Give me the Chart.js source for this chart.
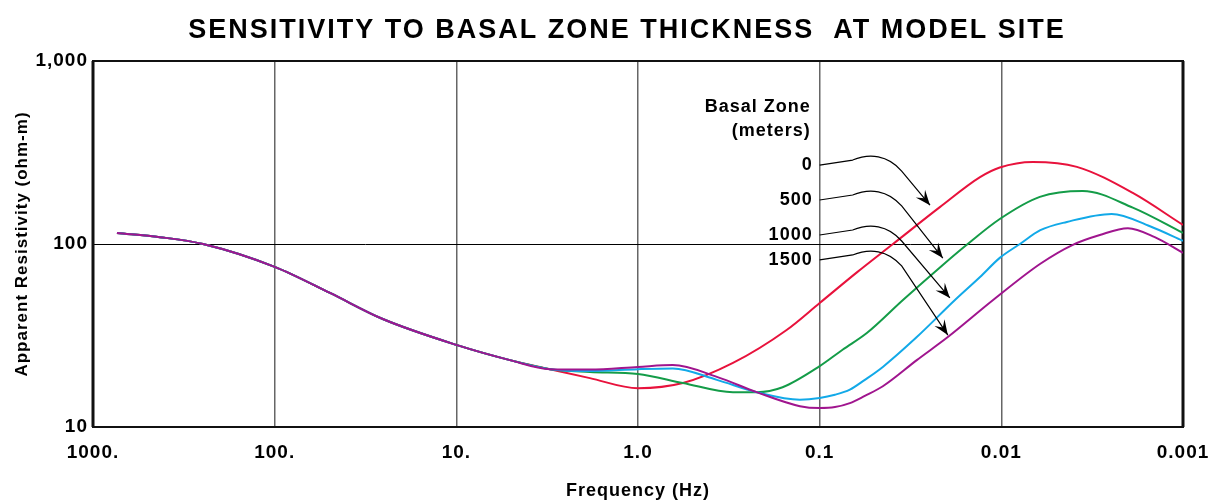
<!DOCTYPE html>
<html>
<head>
<meta charset="utf-8">
<script src="https://cdn.jsdelivr.net/npm/chart.js@4"></script>
<style>
  html, body { margin: 0; padding: 0; background: #fff; }
  #wrap { width: 1208px; height: 504px; }
</style>
</head>
<body>
<div id="wrap"><canvas id="chart"></canvas></div>
<script>
// tick labels
var xTickValues = [1000, 100, 10, 1, 0.1, 0.01, 0.001];
var xTickLabels = ["1000.", "100.", "10.", "1.0", "0.1", "0.01", "0.001"];
var yTickValues = [10, 100, 1000];
var yTickLabels = ["10", "100", "1,000"];

// part shared by every curve (Hz, ohm-m)
var freqCommon = [738, 428, 248, 100, 49.6, 25.4, 10, 5.07, 3.05];
var rhoCommon = [115, 109, 100, 75, 54, 38.9, 28.1, 23.2, 20.7];

// basal zone 0 m
var freq0 = [1.84, 1.0, 0.566, 0.30, 0.152, 0.1, 0.0624, 0.0395, 0.0218, 0.0131, 0.0102, 0.00671, 0.00384, 0.00189, 0.001];
var rho0 = [18.5, 16.3, 17.4, 22.4, 33.9, 47.6, 70, 100, 159, 232, 262, 281, 264, 190, 127];
// basal zone 500 m
var freq500 = [1.84, 1.0, 0.566, 0.30, 0.222, 0.16, 0.1, 0.0745, 0.055, 0.0348, 0.021, 0.0155, 0.0102, 0.00614, 0.00356, 0.00189, 0.001];
var rho500 = [20.0, 19.5, 17.4, 15.5, 15.5, 16.5, 21.5, 26.5, 32.6, 49.4, 76.8, 99, 137, 181, 195, 158, 115];
// basal zone 1000 m
var freq1000 = [1.84, 1.0, 0.643, 0.368, 0.222, 0.1285, 0.1, 0.0824, 0.0682, 0.0564, 0.0449, 0.0292, 0.018, 0.0131, 0.0102, 0.0079, 0.0061, 0.00436, 0.00247, 0.00152, 0.001];
var rho1000 = [20.2, 20.7, 20.9, 18.1, 15.5, 14.1, 14.4, 15.0, 16.0, 18.1, 21.3, 31.0, 49.4, 66, 84, 100, 119, 132, 146, 125, 104];
// basal zone 1500 m
var freq1500 = [1.84, 1.0, 0.643, 0.368, 0.222, 0.1285, 0.1, 0.0824, 0.0682, 0.0564, 0.0449, 0.0292, 0.0197, 0.0111, 0.0061, 0.00404, 0.00287, 0.00201, 0.00143, 0.001];
var rho1500 = [20.6, 21.3, 21.8, 18.8, 15.5, 13.0, 12.7, 12.85, 13.5, 14.8, 16.7, 23.2, 31.0, 49.4, 78, 99, 112, 122, 109, 89.5];

// annotation
var zoneLabels = ["0", "500", "1000", "1500"];
var zoneLabelRho = [270, 174, 112, 81.8];
var arrowTipFreq = [0.0247, 0.021, 0.0192, 0.0197];
var arrowTipRho = [163, 83.8, 50.7, 31.8];
var zoneLabelFreq = 0.1;

var chartTitle = "SENSITIVITY TO BASAL ZONE THICKNESS  AT MODEL SITE";
var helv = "'Liberation Sans', Arial, Helvetica, sans-serif";

function pts(f, r) {
  var fx = freqCommon.concat(f), ry = rhoCommon.concat(r);
  return fx.map(function (v, i) { return { x: v, y: ry[i] }; });
}

function line(label, data, color) {
  return {
    label: label, data: data, borderColor: color, borderWidth: 2,
    pointRadius: 0, cubicInterpolationMode: "monotone", fill: false
  };
}

var annotate = {
  id: "annotate",
  beforeDraw: function (chart) {
    chart.ctx.letterSpacing = "1px";
  },
  beforeDatasetsDraw: function (chart) {
    var a = chart.chartArea, ctx = chart.ctx;
    ctx.save();
    ctx.strokeStyle = "#111";
    ctx.lineWidth = 2;
    ctx.strokeRect(a.left, a.top, a.right - a.left, a.bottom - a.top);
    ctx.lineWidth = 3;
    ctx.beginPath();
    ctx.moveTo(a.left, a.top); ctx.lineTo(a.left, a.bottom);
    ctx.moveTo(a.right, a.top); ctx.lineTo(a.right, a.bottom);
    ctx.stroke();
    ctx.restore();
  },
  afterDatasetsDraw: function (chart) {
    var ctx = chart.ctx, xs = chart.scales.x, ys = chart.scales.y;
    var lx = xs.getPixelForValue(zoneLabelFreq);
    ctx.save();
    ctx.fillStyle = "#000";
    ctx.textAlign = "right";
    ctx.textBaseline = "middle";
    ctx.letterSpacing = "1px";
    ctx.font = "bold 18px " + helv;
    ctx.fillText("Basal Zone", lx - 9, ys.getPixelForValue(561));
    ctx.fillText("(meters)", lx - 9, ys.getPixelForValue(414));
    ctx.strokeStyle = "#000";
    ctx.lineWidth = 1.2;
    zoneLabels.forEach(function (t, i) {
      var sy = ys.getPixelForValue(zoneLabelRho[i]);
      ctx.fillText(t, lx - 7, sy);
      var tx = xs.getPixelForValue(arrowTipFreq[i]), ty = ys.getPixelForValue(arrowTipRho[i]);
      var sx = lx;
      ctx.beginPath();
      ctx.moveTo(sx, sy);
      ctx.lineTo(sx + 33, sy - 5);
      ctx.bezierCurveTo(sx + 50, sy - 12, sx + 68, sy - 10, sx + 82, sy + 6);
      ctx.lineTo(tx, ty);
      ctx.stroke();
      // arrow head
      var ang = Math.atan2(ty - (sy + 6), tx - (sx + 82));
      var len = 15, w = 6;
      ctx.beginPath();
      ctx.moveTo(tx, ty);
      ctx.lineTo(tx - len * Math.cos(ang) + w * Math.sin(ang), ty - len * Math.sin(ang) - w * Math.cos(ang));
      ctx.lineTo(tx - 0.6 * len * Math.cos(ang), ty - 0.6 * len * Math.sin(ang));
      ctx.lineTo(tx - len * Math.cos(ang) - w * Math.sin(ang), ty - len * Math.sin(ang) + w * Math.cos(ang));
      ctx.closePath();
      ctx.fill();
    });
    // title
    ctx.textAlign = "center";
    ctx.letterSpacing = "2px";
    ctx.font = "bold 27px " + helv;
    ctx.fillText(chartTitle, 627, 31);
    ctx.restore();
  }
};

var ctx = document.getElementById("chart");
var chart = new Chart(ctx, {
  type: "line",
  data: {
    datasets: [
      line("1500", pts(freq1500, rho1500), "#a0158e"),
      line("1000", pts(freq1000, rho1000), "#12a9e8"),
      line("500", pts(freq500, rho500), "#149c48"),
      line("0", pts(freq0, rho0), "#e8123c")
    ]
  },
  options: {
    responsive: true,
    maintainAspectRatio: false,
    animation: false,
    layout: { padding: { left: 0, right: 25, top: 61, bottom: 0 } },
    plugins: {
      legend: { display: false },
      tooltip: { enabled: false },
      title: { display: false }
    },
    scales: {
      x: {
        type: "logarithmic",
        reverse: true,
        min: 0.001, max: 1000,
        afterBuildTicks: function (s) { s.ticks = xTickValues.map(function (v) { return { value: v }; }); },
        afterFit: function (s) { s.height = 77; s.paddingLeft = 0; s.paddingRight = 0; },
        ticks: {
          autoSkip: false, maxRotation: 0, padding: 14, color: "#000",
          font: { family: helv, size: 19, weight: "bold" },
          callback: function (v) { var i = xTickValues.indexOf(v); return i < 0 ? "" : xTickLabels[i]; }
        },
        grid: { color: "#666", lineWidth: 1.5, drawTicks: false },
        border: { display: false },
        title: {
          display: true, text: "Frequency (Hz)", color: "#000",
          font: { family: helv, size: 18, weight: "bold" },
          padding: { top: 0, bottom: 2 }
        }
      },
      y: {
        type: "logarithmic",
        min: 10, max: 1000,
        afterBuildTicks: function (s) { s.ticks = yTickValues.map(function (v) { return { value: v }; }); },
        afterFit: function (s) { s.width = 93; s.paddingTop = 0; s.paddingBottom = 0; },
        ticks: {
          autoSkip: false, padding: 5, color: "#000",
          font: { family: helv, size: 19, weight: "bold" },
          callback: function (v) { var i = yTickValues.indexOf(v); return i < 0 ? "" : yTickLabels[i]; }
        },
        grid: { color: "#000", lineWidth: 1, drawTicks: false },
        border: { display: false },
        title: {
          display: true, text: "Apparent Resistivity (ohm-m)", color: "#000",
          font: { family: helv, size: 17, weight: "bold" },
          padding: { top: 12, bottom: 0 }
        }
      }
    }
  },
  plugins: [annotate]
});
</script>
</body>
</html>
